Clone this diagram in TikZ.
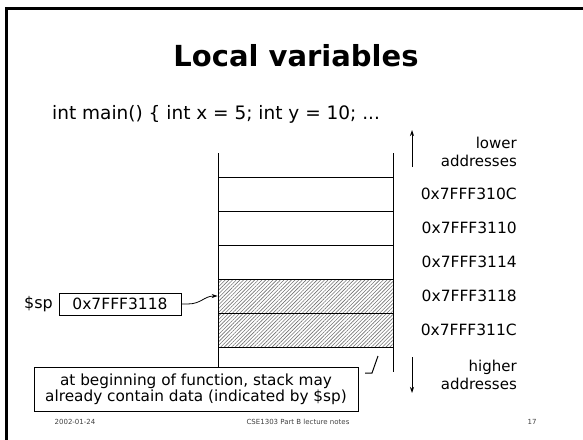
\documentclass[tikz,border=0pt]{standalone}
\usepackage{fontspec}
\setmainfont{DejaVu Sans}
\usetikzlibrary{arrows.meta,patterns.meta}
\tikzset{
  cell/.style={draw=black,line width=1pt,minimum width=175pt,minimum height=34pt,inner sep=0pt},
  hatched/.style={cell,pattern={Lines[angle=45,distance=2.6pt,line width=0.6pt]},pattern color=black!55},
  addr/.style={anchor=east,font=\fontsize{15.5}{15.5}\selectfont,inner sep=0pt},
  side/.style={anchor=east,align=right,font=\fontsize{15}{18}\selectfont,inner sep=0pt},
  foot/.style={font=\fontsize{7}{7}\selectfont,text=black!75,inner sep=0pt},
  arr/.style={-{Stealth[length=6pt,width=4pt]},line width=0.8pt},
}
\begin{document}
\begin{tikzpicture}[x=1pt,y=-1pt]
\useasboundingbox (0,0) rectangle (583,439);
% slide frame
\draw[line width=3pt] (6.5,460) -- (6.5,8.5) -- (600,8.5);
% title and code
\node[font=\bfseries\fontsize{29}{29}\selectfont,inner sep=0pt] (title) at (296,56) {Local variables};
\node[anchor=west,font=\fontsize{18.5}{18.5}\selectfont,inner sep=0pt] (code) at (52,114) {int main() \{ int x = 5; int y = 10; ...};
% stack cells
\node[cell] (r1) at (305.5,194) {};
\node[cell] (r2) at (305.5,228) {};
\node[cell] (r3) at (305.5,262) {};
\node[hatched] (r4) at (305.5,296) {};
\node[hatched] (r5) at (305.5,330) {};
% address labels
\node[addr] (a1) at (517,194) {0x7FFF310C};
\node[addr] (a2) at (517,228) {0x7FFF3110};
\node[addr] (a3) at (517,262) {0x7FFF3114};
\node[addr] (a4) at (517,296) {0x7FFF3118};
\node[addr] (a5) at (517,330) {0x7FFF311C};
\node[side] (low) at (517,152) {lower\\addresses};
\node[side] (high) at (517,375) {higher\\addresses};
\coordinate (u1) at (412,167);
\coordinate (u2) at (412,130);
\coordinate (d1) at (412,357);
\coordinate (d2) at (412,393);
\draw[arr] (u1) -- (u2);
\draw[arr] (d1) -- (d2);
% note box
\node[draw,line width=1pt,minimum width=324pt,minimum height=44pt,align=center,inner sep=0pt,font=\fontsize{15.3}{16}\selectfont] (note) at (196,389) {at beginning of function, stack may\\already contain data (indicated by \$sp)};
% stack side lines
\coordinate (lt) at (218,153);
\coordinate (rt) at (393,153);
\coordinate (rb) at (393,372);
\draw[line width=1pt] (lt) -- (lt |- note.north);
\draw[line width=1pt] (rt) -- (rb);
% callout
\coordinate (c1) at (365,373);
\coordinate (c2) at (372,373);
\coordinate (c3) at (378,356);
\draw[line width=1pt] (c1) -- (c2) -- (c3);
% sp
\node[font=\fontsize{16}{16}\selectfont,inner sep=0pt] (sp) at (38.5,304) {\$sp};
\node[draw,line width=1pt,minimum width=122pt,minimum height=22pt,inner sep=0pt,font=\fontsize{15.5}{15.5}\selectfont] (spbox) at (120,304) {0x7FFF3118};
\draw[arr] (spbox.east) -- ++(6,0) .. controls +(14,0) and +(-14,0) .. (r4.west);
% footer
\node[foot] (date) at (75,422) {2002-01-24};
\node[foot] (course) at (298,422) {CSE1303 Part B lecture notes};
\node[foot] (page) at (532,422) {17};
\end{tikzpicture}
\end{document}
